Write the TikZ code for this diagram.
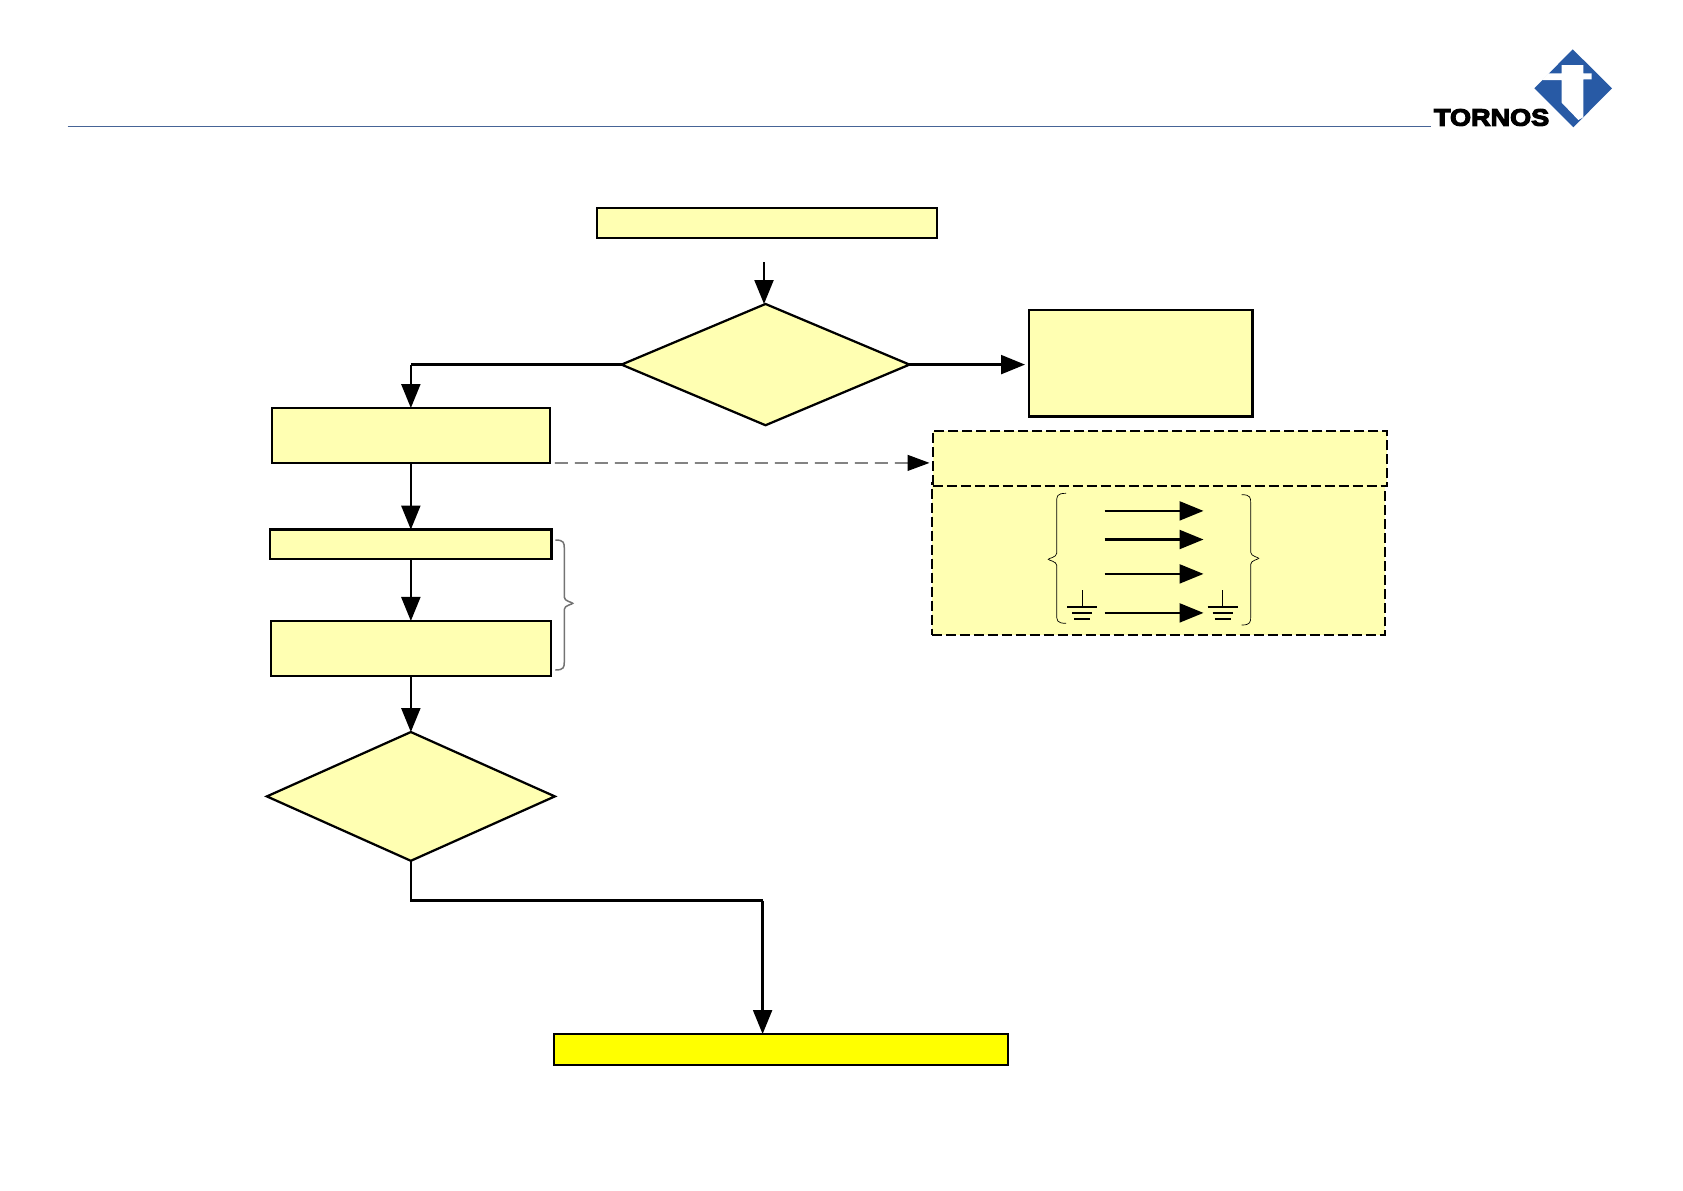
\documentclass[tikz,border=0pt]{standalone}
\usepackage{xcolor}
\usepackage{fontspec}
\usepackage{tikz}
\usetikzlibrary{arrows.meta,shapes.geometric}
\newfontfamily\logofont[FakeBold=5,FakeStretch=1.14]{Liberation Sans Bold}
\definecolor{FlowFill}{RGB}{255,255,178}
\definecolor{EndFill}{RGB}{255,255,0}
\definecolor{RuleBlue}{RGB}{70,100,150}
\definecolor{LogoBlue}{RGB}{40,90,165}
% end x, spine x, tip x, top y, middle y, bottom y
\newcommand{\curlypath}[6]{(#1,#4) .. controls (#2,#4) and (#2,#4+3) .. (#2,#4+9) -- (#2,#5-6) .. controls (#2,#5-2) and (#3,#5-1) .. (#3,#5) .. controls (#3,#5+1) and (#2,#5+2) .. (#2,#5+6) -- (#2,#6-9) .. controls (#2,#6-3) and (#2,#6) .. (#1,#6)}

\begin{document}
\begin{tikzpicture}[
  x=0.02cm, y=-0.02cm,
  every node/.style={inner sep=0pt, outer sep=0pt, align=center},
  box/.style={draw=black, line width=0.045cm, fill=FlowFill},
  dashbox/.style={box, line width=0.05cm, dash pattern=on 0.2cm off 0.08cm},
  decision/.style={box, diamond},
  line/.style={draw=black, line width=0.045cm},
  flow/.style={line, -{Triangle[length=0.48cm,width=0.38cm]}},
  curly/.style={draw=black, line width=0.014cm}
]
\useasboundingbox (0,0) rectangle (1683,1190);

% header
\coordinate (ruleA) at (67.6,126.6);
\coordinate (ruleB) at (1431,126.6);
\draw[RuleBlue, line width=0.03cm] (ruleA) -- (ruleB);
\fill[LogoBlue] (1572.7,49.3) -- (1612,88.3) -- (1573.3,127.3) -- (1534.3,88.3) -- cycle;
\fill[white] (1561.7,65) -- (1583.3,65) -- (1583.3,73.3) -- (1591.7,73.3) -- (1591.7,79.3) -- (1583.3,79.3) -- (1583.3,117.3) -- (1578.3,120) -- (1561.7,102.7) -- (1561.7,80) -- (1541.7,80) -- (1548.3,73.3) -- (1561.7,73.3) -- cycle;
\node[font=\logofont, text=black, anchor=west] (logo) at (1434,117.5) {\fontsize{13.5pt}{14pt}\selectfont TORNOS};

% left branch
\node[box, minimum width=6.8cm, minimum height=0.6cm] (start) at (767,223.3) {};
\node[decision, minimum width=5.76cm, minimum height=2.426cm] (first) at (765.5,364.6) {};
\node[box, minimum width=4.47cm, minimum height=2.13cm] (right) at (1140.7,363.2) {};
\node[box, minimum width=5.566cm, minimum height=1.1cm] (prep) at (410.85,435.4) {};
\node[box, minimum width=5.63cm, minimum height=0.594cm] (narrow) at (410.85,544.4) {};
\node[box, minimum width=5.606cm, minimum height=1.106cm] (check) at (410.85,648.6) {};
\node[decision, minimum width=5.76cm, minimum height=2.576cm] (second) at (410.85,796.4) {};
\node[box, fill=EndFill, minimum width=9.08cm, minimum height=0.622cm] (finish) at (781,1049.4) {};

% dashed panel
\node[dashbox, minimum width=9.066cm, minimum height=3.04cm] (panel) at (1158.35,559.2) {};
\node[dashbox, minimum width=9.086cm, minimum height=1.1cm] (banner) at (1159.85,458.4) {};

% connectors
\coordinate (entry) at (764,262);
\coordinate (entryEnd) at (764,304);
\coordinate (elbowA) at (410.85,364.6);
\coordinate (prepTop) at (410.85,408);
\coordinate (elbowB) at (410.85,900.5);
\coordinate (elbowC) at (762.6,900.5);
\coordinate (finishTop) at (762.6,1034);
\coordinate (firstOut) at (1025,364.6);
\coordinate (bannerIn) at (929.5,462.9);
\draw[flow] (entry) -- (entryEnd);
\draw[line] (first.west) -- (elbowA);
\draw[flow] (elbowA) -- (prepTop);
\draw[flow] (first.east) -- (firstOut);
\draw[flow] (prep.south) -- (narrow.north);
\draw[flow] (narrow.south) -- (check.north);
\draw[flow] (check.south) -- (second.north);
\draw[line] (second.south) -- (elbowB) -- (elbowC);
\draw[flow] (elbowC) -- (finishTop);
\draw[flow, draw=black!75, line width=0.025cm, dash pattern=on 0.26cm off 0.14cm, {Triangle[length=0.44cm,width=0.32cm,black]}-{}] (bannerIn) -- (prep.south east);

% braces
\draw[curly, draw=black!55, line width=0.03cm] \curlypath{555.3}{564.3}{572.7}{540}{603.3}{670};
\draw[curly] \curlypath{1066}{1056.7}{1048.3}{493.3}{559.3}{623.3};
\draw[curly] \curlypath{1241.7}{1250.7}{1258.7}{494.7}{558.3}{625};

% inner arrows
\foreach \ypos/\nm in {510.9/a,539.5/b,573.9/c,612.9/d}{
  \coordinate (in\nm) at (1104.7,\ypos);
  \coordinate (out\nm) at (1203.5,\ypos);
  \draw[flow] (in\nm) -- (out\nm);
}

% grounds
\foreach \gx in {1082.3,1222.7}{
  \draw[line, line width=0.03cm] (\gx,590) -- (\gx,606.8);
  \draw[line, line width=0.03cm] (\gx-15,606.8) -- (\gx+15,606.8);
  \draw[line, line width=0.03cm] (\gx-10,612.8) -- (\gx+10,612.8);
  \draw[line, line width=0.03cm] (\gx-8,619) -- (\gx+8,619);
}
\end{tikzpicture}
\end{document}
